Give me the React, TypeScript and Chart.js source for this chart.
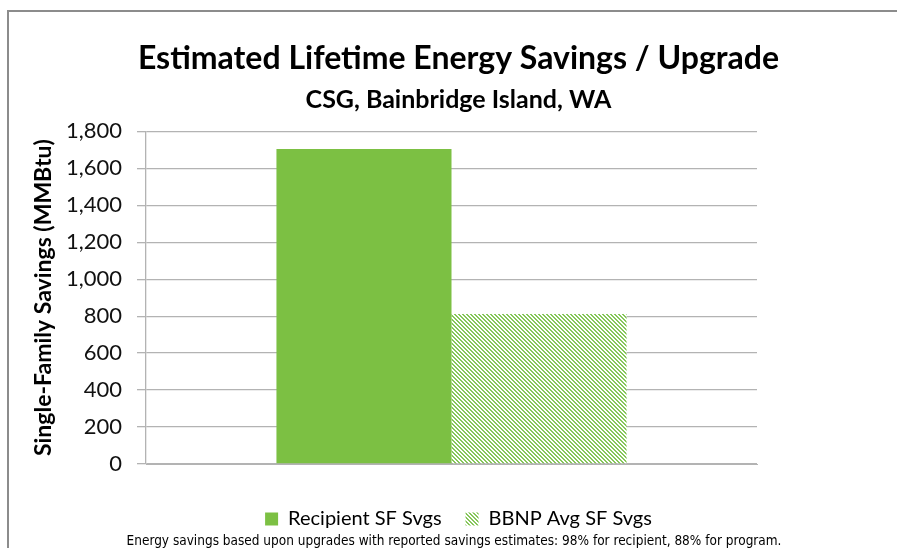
import React, { useEffect, useRef } from "react";
import { Chart, registerables } from "chart.js";

Chart.register(...registerables);

const categories = [""];
const seriesNames = ["Recipient SF Svgs", "BBNP Avg SF Svgs"];
const recipientSavings = [1705];
const bbnpAvgSavings = [812];
const yMin = 0;
const yMax = 1800;
const yStep = 200;
const titleText = "Estimated Lifetime Energy Savings / Upgrade";
const subtitleText = "CSG, Bainbridge Island, WA";
const yAxisTitle = "Single-Family Savings (MMBtu)";
const footnoteText =
  "Energy savings based upon upgrades with reported savings estimates: 98% for recipient, 88% for program.";

const GREEN = "#7cc043";
const HATCH_GREEN = "#86c75a";
const GRID = "#b3b3b3";
const FONT = "Lato, 'Open Sans', sans-serif";
const NARROW = "'Liberation Sans Narrow', 'DejaVu Sans Condensed', Lato, sans-serif";

function makeHatch(): CanvasPattern | string {
  const c = document.createElement("canvas");
  const s = 4;
  c.width = s;
  c.height = s;
  const g = c.getContext("2d");
  if (!g) return HATCH_GREEN;
  g.fillStyle = "#ffffff";
  g.fillRect(0, 0, s, s);
  g.fillStyle = HATCH_GREEN;
  for (let i = 0; i < s; i++) {
    g.fillRect(i, i, 1, 1);
    g.fillRect((i + 1) % s, i, 1, 1);
  }
  const p = g.createPattern(c, "repeat");
  return p || HATCH_GREEN;
}

const framePlugin = {
  id: "frame",
  beforeDraw(chart: any) {
    const { ctx, width, height } = chart;
    ctx.save();
    ctx.fillStyle = "#ffffff";
    ctx.fillRect(0, 0, width, height);
    ctx.strokeStyle = "#8c8c8c";
    ctx.lineWidth = 2;
    ctx.beginPath();
    ctx.moveTo(8, height);
    ctx.lineTo(8, 11);
    ctx.lineTo(width, 11);
    ctx.stroke();
    ctx.restore();
  },
  afterDraw(chart: any) {
    const { ctx } = chart;
    ctx.save();
    ctx.fillStyle = "#000000";
    ctx.font = `13.5px ${NARROW}`;
    ctx.textAlign = "center";
    ctx.textBaseline = "middle";
    ctx.fillText(footnoteText, 454, 541);
    ctx.restore();
  },
};

export default function App() {
  const ref = useRef<HTMLCanvasElement | null>(null);

  useEffect(() => {
    if (!ref.current) return;
    const hatch = makeHatch();
    const chart = new Chart(ref.current, {
      type: "bar",
      data: {
        labels: categories,
        datasets: [
          {
            label: seriesNames[0],
            data: recipientSavings,
            backgroundColor: GREEN,
            borderWidth: 0,
            categoryPercentage: 0.573,
            barPercentage: 1,
          },
          {
            label: seriesNames[1],
            data: bbnpAvgSavings,
            backgroundColor: hatch as any,
            borderWidth: 0,
            categoryPercentage: 0.573,
            barPercentage: 1,
          },
        ],
      },
      options: {
        responsive: false,
        animation: false,
        layout: { padding: { top: 12, left: 20, right: 0, bottom: 9 } },
        plugins: {
          tooltip: { enabled: false },
          title: {
            display: true,
            text: titleText,
            color: "#000",
            font: { family: FONT, size: 32, weight: "bold" },
            padding: { top: 27, bottom: 4 },
          },
          subtitle: {
            display: true,
            text: subtitleText,
            color: "#000",
            font: { family: FONT, size: 25, weight: "bold" },
            padding: { top: 4, bottom: 16 },
          },
          legend: {
            position: "bottom",
            labels: {
              color: "#000",
              font: { family: FONT, size: 20 },
              boxWidth: 13,
              boxHeight: 13,
              padding: 24,
            },
          },
        },
        scales: {
          x: {
            grid: { display: false },
            border: { display: true, color: GRID, width: 1 },
            ticks: { display: false },
            afterFit(scale: any) {
              scale.height = 21;
            },
          },
          y: {
            min: yMin,
            max: yMax,
            ticks: {
              stepSize: yStep,
              color: "#111",
              padding: 15,
              font: { family: FONT, size: 22 },
              callback: (v: any) => Number(v).toLocaleString("en-US"),
            },
            grid: { color: GRID, lineWidth: 1.3, tickLength: 9, drawTicks: true },
            border: { display: true, color: GRID, width: 1.3 },
            title: {
              display: true,
              text: yAxisTitle,
              color: "#000",
              font: { family: FONT, size: 23, weight: "bold" },
              padding: { top: 10, bottom: 0 },
            },
            afterFit(scale: any) {
              scale.width = 126;
            },
          },
          spacer: {
            type: "linear",
            position: "right",
            display: true,
            grid: { display: false, drawTicks: false },
            border: { display: false },
            ticks: { display: false },
            afterFit(scale: any) {
              scale.width = 140;
            },
          },
        },
      },
      plugins: [framePlugin],
    });
    return () => chart.destroy();
  }, []);

  return (
    <div style={{ position: "fixed", left: 0, top: 0, width: 897, height: 548 }}>
      <canvas ref={ref} width={897} height={548} style={{ display: "block" }} />
    </div>
  );
}
